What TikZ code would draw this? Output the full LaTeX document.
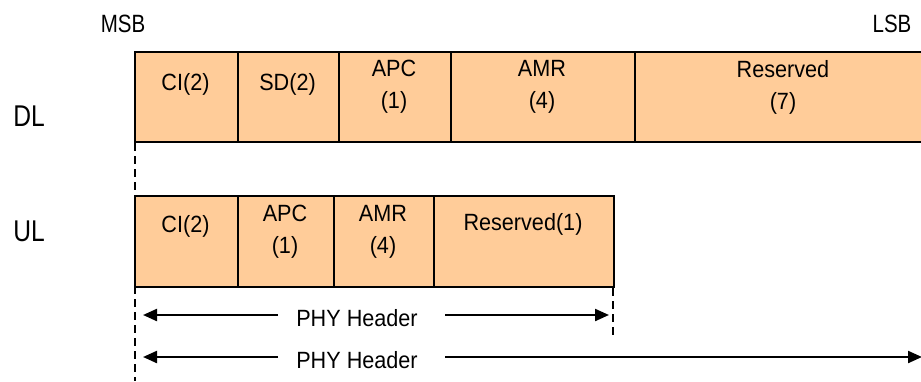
\documentclass[tikz,border=0pt]{standalone}
\usepackage{fontspec}
\setmainfont[FakeStretch=0.92]{Liberation Sans}
\newfontfamily\narrowfont[FakeStretch=0.82]{Liberation Sans}
\usetikzlibrary{arrows.meta}
\definecolor{peach}{RGB}{255,204,153}
\begin{document}
\begin{tikzpicture}[x=1pt,y=-1pt,
  field/.style={draw=black, line width=1.8pt, fill=peach, inner sep=0pt, anchor=north west},
  lbl/.style={font=\fontsize{23.5}{32}\selectfont, inner sep=0pt, align=center},
  side/.style={font=\narrowfont\fontsize{30}{32}\selectfont, inner sep=0pt},
  bitlbl/.style={font=\narrowfont\fontsize{25}{27}\selectfont, inner sep=0pt},
  dashline/.style={line width=1.5pt, dash pattern=on 8pt off 5pt},
  hdr/.style={line width=2.2pt, -{Triangle[length=14pt,width=12pt]}}]
\useasboundingbox (0,0) rectangle (921,381);

% side labels
\node[bitlbl] (msb) at (123,24) {MSB};
\node[bitlbl] (lsb) at (892,24) {LSB};
\node[side] (dl) at (29,116) {DL};
\node[side] (ul) at (29,231) {UL};

% DL fields
\node[field, minimum width=103, minimum height=90] (d1) at (134,51) {};
\node[field, minimum width=101, minimum height=90] (d2) at (237,51) {};
\node[field, minimum width=112, minimum height=90] (d3) at (338,51) {};
\node[field, minimum width=184, minimum height=90] (d4) at (450,51) {};
\node[field, minimum width=300, minimum height=90] (d5) at (634,51) {};
\node[lbl] (t1) at (185.5,84) {CI(2)};
\node[lbl] (t2) at (287.5,84) {SD(2)};
\node[lbl] (t3) at (394,87) {APC\\(1)};
\node[lbl] (t4) at (542,87) {AMR\\(4)};
\node[lbl] (t5) at (783,87) {Reserved\\(7)};

% UL fields
\node[field, minimum width=103, minimum height=91] (u1) at (134,195) {};
\node[field, minimum width=96, minimum height=91] (u2) at (237,195) {};
\node[field, minimum width=100, minimum height=91] (u3) at (333,195) {};
\node[field, minimum width=180, minimum height=91] (u4) at (433,195) {};
\node[lbl] (s1) at (185.5,226) {CI(2)};
\node[lbl] (s2) at (285,232) {APC\\(1)};
\node[lbl] (s3) at (383,232) {AMR\\(4)};
\node[lbl] (s4) at (523,224) {Reserved(1)};

% dashed guides
\coordinate (gtop) at (135,143);
\coordinate (gbot) at (135,381);
\coordinate (rtop) at (613,288);
\coordinate (rbot) at (613,338);
\draw[dashline] (gtop) -- (gbot);
\draw[dashline] (rtop) -- (rbot);

% PHY header arrows
\node[lbl] (h1) at (357,318) {PHY Header};
\node[lbl] (h2) at (357,360) {PHY Header};
\coordinate (a1a) at (278,315);
\coordinate (a1b) at (445,315);
\coordinate (a1l) at (143,315);
\coordinate (a1r) at (609,315);
\coordinate (a2a) at (278,357);
\coordinate (a2b) at (445,357);
\coordinate (a2l) at (143,357);
\coordinate (a2r) at (922,357);
\draw[hdr] (a1a) -- (a1l);
\draw[hdr] (a1b) -- (a1r);
\draw[hdr] (a2a) -- (a2l);
\draw[hdr] (a2b) -- (a2r);
\end{tikzpicture}
\end{document}
